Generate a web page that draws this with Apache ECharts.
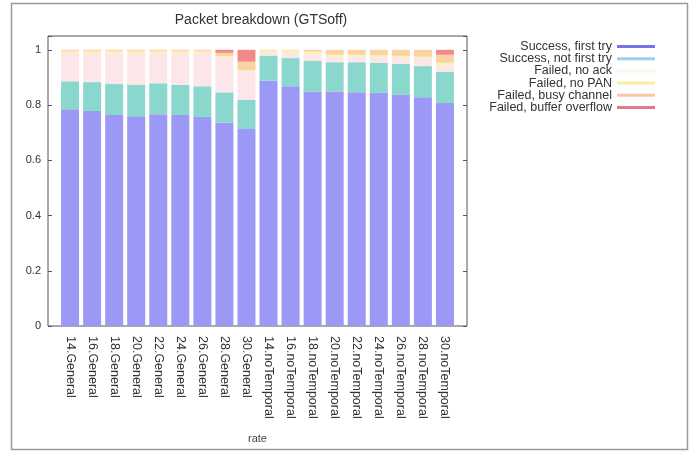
<!DOCTYPE html>
<html>
<head>
<meta charset="utf-8">
<script src="https://cdn.jsdelivr.net/npm/echarts@6/dist/echarts.min.js"></script>
<style>
  html, body { margin: 0; padding: 0; background: #fff; }
  #chart { width: 691px; height: 453px; }
</style>
</head>
<body>
<div id="chart"></div>
<script>
// Categories along the x axis (rate.scheme)
const categories = [
  '14.General', '16.General', '18.General', '20.General', '22.General',
  '24.General', '26.General', '28.General', '30.General',
  '14.noTemporal', '16.noTemporal', '18.noTemporal', '20.noTemporal', '22.noTemporal',
  '24.noTemporal', '26.noTemporal', '28.noTemporal', '30.noTemporal'
];

// Fraction of packets per outcome, stacked bottom to top
const successFirstTry = [0.785, 0.779, 0.764, 0.759, 0.767, 0.764, 0.757, 0.737, 0.713,
                         0.888, 0.868, 0.849, 0.849, 0.846, 0.844, 0.837, 0.828, 0.807];
const successNotFirstTry = [0.101, 0.104, 0.112, 0.115, 0.112, 0.109, 0.111, 0.109, 0.106,
                            0.091, 0.102, 0.112, 0.106, 0.109, 0.109, 0.112, 0.113, 0.114];
const failedNoAck = [0.102, 0.105, 0.112, 0.114, 0.109, 0.115, 0.120, 0.126, 0.104,
                     0.011, 0.018, 0.022, 0.020, 0.020, 0.020, 0.022, 0.026, 0.022];
const failedNoPan = [0.008, 0.008, 0.008, 0.008, 0.008, 0.008, 0.008, 0.005, 0.004,
                     0.008, 0.010, 0.010, 0.007, 0.007, 0.007, 0.007, 0.008, 0.010];
const failedBusyChannel = [0.004, 0.004, 0.004, 0.004, 0.004, 0.004, 0.004, 0.012, 0.030,
                           0.002, 0.002, 0.007, 0.018, 0.018, 0.020, 0.022, 0.025, 0.029];
const failedBufferOverflow = [0, 0, 0, 0, 0, 0, 0, 0.011, 0.043,
                              0, 0, 0, 0, 0, 0, 0, 0, 0.018];

const yTicks = [0, 0.2, 0.4, 0.6, 0.8, 1];

const seriesDefs = [
  { name: 'Success, first try', data: successFirstTry, bar: '#9c98f6', key: '#7673e6' },
  { name: 'Success, not first try', data: successNotFirstTry, bar: '#8ad8cd', key: '#9ccfe9' },
  { name: 'Failed, no ack', data: failedNoAck, bar: '#fde6ea', key: '#fbf6ec' },
  { name: 'Failed, no PAN', data: failedNoPan, bar: '#fcf0b4', key: '#f7efa2' },
  { name: 'Failed, busy channel', data: failedBusyChannel, bar: '#fbd3a2', key: '#f8c8a4' },
  { name: 'Failed, buffer overflow', data: failedBufferOverflow, bar: '#f28a8c', key: '#e7798f' }
];

// One empty slot on each side of the bars, like a histogram xrange of [-1, n]
const axisCategories = [''].concat(categories, ['']);
const padded = arr => [null].concat(arr, [null]);

const chart = echarts.init(document.getElementById('chart'), null, { renderer: 'canvas' });
const FONT = 'Liberation Sans, Arial, sans-serif';

const option = {
  animation: false,
  backgroundColor: '#ffffff',
  title: {
    text: 'Packet breakdown (GTSoff)',
    left: 256, top: 8, textAlign: 'center',
    textStyle: { fontFamily: FONT, fontSize: 14, fontWeight: 'normal', color: '#333' }
  },
  graphic: [
    { type: 'rect', shape: { x: 11.5, y: 3.5, width: 676, height: 446 },
      style: { fill: 'none', stroke: '#9a9a9a', lineWidth: 1.5 }, silent: true }
  ],
  legend: {
    orient: 'vertical',
    right: 31, top: 35,
    align: 'right',
    itemWidth: 38, itemHeight: 3, itemGap: -0.8,
    icon: 'rect',
    textStyle: { fontFamily: FONT, fontSize: 12.5, lineHeight: 12, color: '#333' },
    data: seriesDefs.map(s => ({ name: s.name, itemStyle: { color: s.key } }))
  },
  grid: {
    left: 48, right: 224, top: 36, bottom: 127,
    show: true, borderColor: '#555', borderWidth: 1, backgroundColor: 'transparent'
  },
  xAxis: {
    type: 'category', data: axisCategories, boundaryGap: false,
    name: 'rate', nameLocation: 'middle', nameGap: 107,
    nameTextStyle: { fontFamily: FONT, fontSize: 11, color: '#444' },
    axisLine: { show: false }, axisTick: { show: false }, splitLine: { show: false },
    axisLabel: {
      rotate: -90, margin: 10, interval: 0,
      fontFamily: FONT, fontSize: 12.5, color: '#333'
    }
  },
  yAxis: [
    {
      type: 'value', min: 0, max: 1.05, interval: 0.2,
      axisLine: { show: false }, splitLine: { show: false },
      axisTick: { show: true, inside: true, length: 4, lineStyle: { color: '#555' } },
      axisLabel: {
        margin: 7, fontFamily: FONT, fontSize: 11, color: '#333',
        formatter: v => (yTicks.some(t => Math.abs(t - v) < 1e-9) ? String(+v.toFixed(1)) : '')
      }
    },
    {
      type: 'value', min: 0, max: 1.05, interval: 0.2, position: 'right',
      axisLine: { show: false }, splitLine: { show: false },
      axisTick: { show: true, inside: true, length: 4, lineStyle: { color: '#555' } },
      axisLabel: { show: false }
    }
  ],
  series: seriesDefs.map(s => ({
    name: s.name,
    type: 'bar',
    stack: 'total',
    barWidth: 18,
    itemStyle: { color: s.bar },
    data: padded(s.data)
  }))
};

chart.setOption(option);
</script>
</body>
</html>
